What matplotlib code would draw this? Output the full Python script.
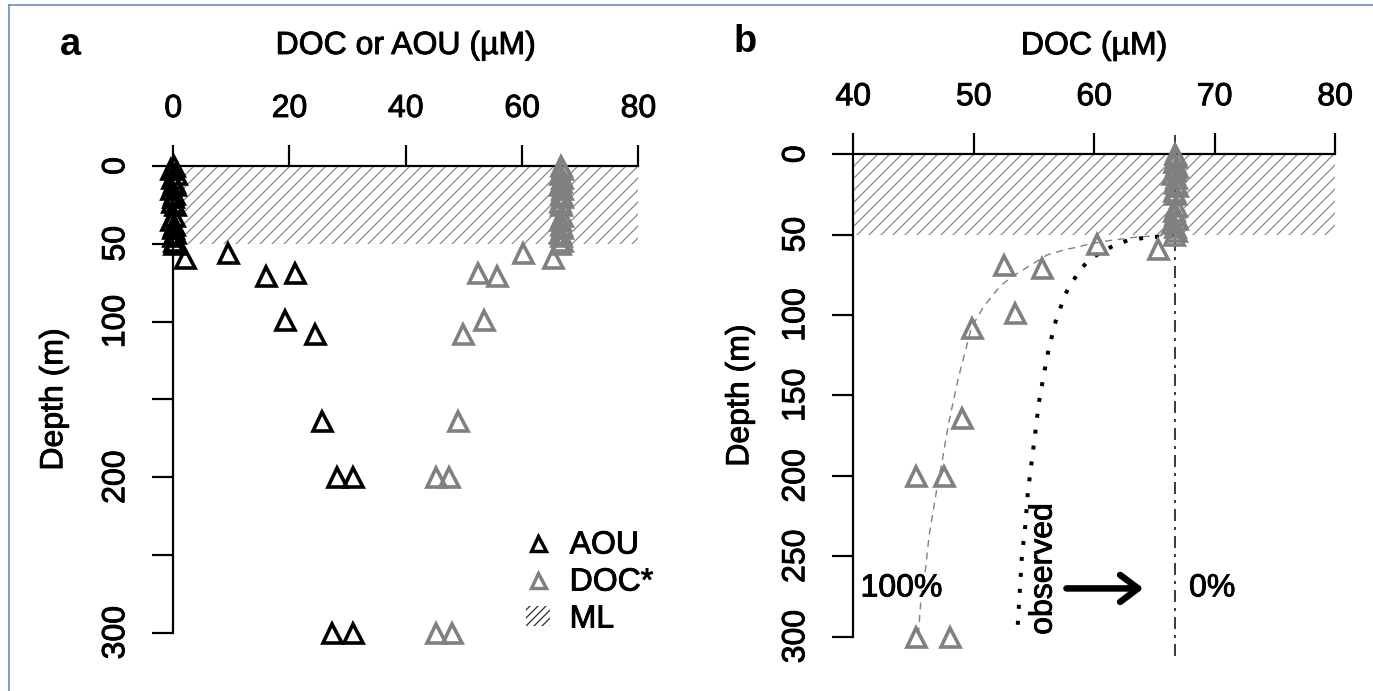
import matplotlib
matplotlib.use("Agg")
import matplotlib.pyplot as plt
import matplotlib.patheffects as pe
from matplotlib.lines import Line2D
from matplotlib.patches import Patch, Rectangle

plt.rcParams['font.family'] = ['Liberation Sans', 'DejaVu Sans']
plt.rcParams['hatch.linewidth'] = 1.3

# ---- data -------------------------------------------------------------
# samples inside the mixed layer (0-50 m)
ml_depth = [0, 2, 5, 8, 10, 12, 15, 18, 20, 23, 25, 32, 35, 38, 40, 43, 45, 48, 50]
ml_aou = [0.2, -0.3, 0.4, -0.2, 0.1, 0.3, -0.4, 0.2, 0.0, -0.2, 0.3, 0.1, -0.3, 0.2, 0.0, 0.3, -0.1, 0.2, 0.1]
ml_doc = [66.7, 66.8, 66.6, 66.9, 66.7, 66.5, 66.8, 66.7, 66.9, 66.6, 66.7, 66.8, 66.6, 66.7, 66.9, 66.5, 66.7, 66.8, 66.6]

# samples below the mixed layer
deep_depth = [56, 59, 69, 71, 99, 108, 164, 200, 200, 300, 300]
deep_aou = [9.5, 2.1, 21.0, 16.0, 19.3, 24.4, 25.6, 28.2, 31.0, 27.3, 31.0]
deep_doc = [60.2, 65.3, 52.5, 55.7, 53.4, 49.9, 49.0, 45.2, 47.5, 45.2, 48.0]

depth = ml_depth + deep_depth
aou = ml_aou + deep_aou
doc = ml_doc + deep_doc

ml_bottom = 50      # mixed-layer depth (m)
doc_ml = 66.7       # mixed-layer DOC (uM), 0 % removal

# DOC profile expected for complete (100 %) removal
full_depth = [50, 51.5, 54, 56, 57.6, 59.5, 62.6, 70, 76, 82, 95, 108, 140, 168, 190, 210, 237, 258, 279, 300]
full_doc = [66.7, 63.5, 61.0, 59.5, 58.7, 57.5, 56.1, 54.5, 53.2, 52.2, 50.8, 49.8, 48.7, 47.9, 47.4, 46.9, 46.3, 46.0, 45.6, 45.4]

# observed DOC profile
obs_depth = [50, 51.3, 52.1, 53.3, 56.5, 60.5, 65, 72, 87, 104, 122, 138, 155, 174, 192, 210, 230, 250, 275, 300]
obs_doc = [66.7, 65.4, 64.1, 62.9, 61.7, 60.7, 59.7, 58.8, 57.6, 56.8, 56.2, 55.8, 55.4, 55.1, 54.8, 54.5, 54.3, 54.0, 53.8, 53.6]

depth_ticks = [0, 50, 100, 150, 200, 250, 300]
depth_labels_a = ['0', '50', '100', '', '200', '', '300']
xticks_a = [0, 20, 40, 60, 80]
xticks_b = [40, 50, 60, 70, 80]

GRAY = '#808080'
HATCH = '#8c8c8c'
FS = 32
TRI = dict(marker='^', ls='none', mfc='none', ms=19, mew=3.6, zorder=4)
HEAVY = [pe.withStroke(linewidth=0.9, foreground='black')]

# ---- figure -----------------------------------------------------------
W, H = 1373, 691
fig = plt.figure(figsize=(W / 72, H / 72), dpi=72)
axa = fig.add_axes([0.1126, 0.0573, 0.3659, 0.7295])
axb = fig.add_axes([0.6074, 0.0507, 0.3790, 0.7540])


def style_axes(ax, xticks, xlim, ylabels):
    ax.set_xlim(*xlim)
    ax.set_ylim(312, -12)
    for s in ('bottom', 'right'):
        ax.spines[s].set_visible(False)
    ax.spines['top'].set_position(('data', 0))
    ax.spines['top'].set_bounds(xticks[0], xticks[-1])
    ax.spines['left'].set_position(('data', xticks[0]))
    ax.spines['left'].set_bounds(depth_ticks[0], depth_ticks[-1])
    for s in ('top', 'left'):
        ax.spines[s].set_linewidth(2.2)
    ax.xaxis.tick_top()
    ax.xaxis.set_label_position('top')
    ax.set_xticks(xticks)
    ax.set_xticklabels([str(t) for t in xticks])
    ax.set_yticks(depth_ticks)
    ax.set_yticklabels(ylabels)
    ax.tick_params(axis='both', length=21, width=2.2, pad=21, labelsize=FS, direction='out')
    ax.tick_params(axis='y', labelrotation=90)
    for lab in ax.get_yticklabels():
        lab.set_va('center')
    for lab in ax.get_xticklabels() + ax.get_yticklabels():
        lab.set_path_effects(HEAVY)
    ax.patch.set_visible(False)


# ---- panel a ----------------------------------------------------------
style_axes(axa, xticks_a, (-3.2, 83.2), depth_labels_a)
axa.add_patch(Rectangle((xticks_a[0], 0), xticks_a[-1] - xticks_a[0], ml_bottom,
                        facecolor='none', edgecolor=HATCH, hatch='//', lw=0, zorder=1))
axa.plot(aou, depth, mec='black', **TRI)
axa.plot(doc, depth, mec=GRAY, **TRI)
axa.set_xlabel('DOC or AOU (µM)', fontsize=FS, labelpad=40, path_effects=HEAVY)
axa.set_ylabel('Depth (m)', fontsize=FS, labelpad=32, path_effects=HEAVY)

handles = [Line2D([], [], marker='^', ls='none', mfc='none', mec='black', ms=15, mew=3.4),
           Line2D([], [], marker='^', ls='none', mfc='none', mec=GRAY, ms=15, mew=3.4),
           Patch(facecolor='none', edgecolor='#333333', hatch='///', lw=0)]
leg = axa.legend(handles, ['AOU', 'DOC*', 'ML'], loc='upper left', bbox_to_anchor=(58, 224),
                 bbox_transform=axa.transData, frameon=False, fontsize=FS,
                 handlelength=0.75, handleheight=0.6, handletextpad=0.6,
                 labelspacing=0.22, borderpad=0)
for t in leg.get_texts():
    t.set_path_effects(HEAVY)

# ---- panel b ----------------------------------------------------------
style_axes(axb, xticks_b, (38.4, 81.6), [str(t) for t in depth_ticks])
axb.add_patch(Rectangle((xticks_b[0], 0), xticks_b[-1] - xticks_b[0], ml_bottom,
                        facecolor='none', edgecolor=HATCH, hatch='//', lw=0, zorder=1))
axb.axvline(doc_ml, color='black', lw=1.5, ls=(0, (8, 4, 2, 4)), zorder=2)
axb.plot(full_doc, full_depth, color=GRAY, lw=1.4, ls=(0, (5, 4)), zorder=2)
axb.plot(obs_doc, obs_depth, color='black', lw=4, ls=(0, (1, 3)),
         dash_capstyle='butt', zorder=2)
axb.plot(doc, depth, mec=GRAY, **TRI)
axb.set_xlabel('DOC (µM)', fontsize=FS, labelpad=28, path_effects=HEAVY)
axb.set_ylabel('Depth (m)', fontsize=FS, labelpad=26, path_effects=HEAVY)

axb.text(44.0, 270, '100%', fontsize=FS, ha='center', va='center', path_effects=HEAVY)
axb.text(69.8, 270, '0%', fontsize=FS, ha='center', va='center', path_effects=HEAVY)
axb.text(55.8, 258, 'observed', fontsize=FS, ha='center', va='center', rotation=90,
         path_effects=HEAVY)
axb.annotate('', xy=(64.1, 270), xytext=(57.7, 270),
             arrowprops=dict(arrowstyle='->,head_length=0.6,head_width=0.45',
                             lw=6.5, color='black', mutation_scale=30,
                             shrinkA=0, shrinkB=0))

# panel letters
fig.text(70 / W, 1 - 55 / H, 'a', fontsize=38, fontweight='bold', ha='center', va='baseline')
fig.text(745 / W, 1 - 52 / H, 'b', fontsize=38, fontweight='bold', ha='center', va='baseline')

# frame edges
fig.add_artist(Line2D([9 / W, 1], [1 - 5 / H, 1 - 5 / H], color='#5b80c4', lw=1.5,
                      transform=fig.transFigure))
fig.add_artist(Line2D([9 / W, 9 / W], [0, 1 - 5 / H], color='#5b80c4', lw=1.5,
                      transform=fig.transFigure))

fig.savefig('out.png', dpi=72)
